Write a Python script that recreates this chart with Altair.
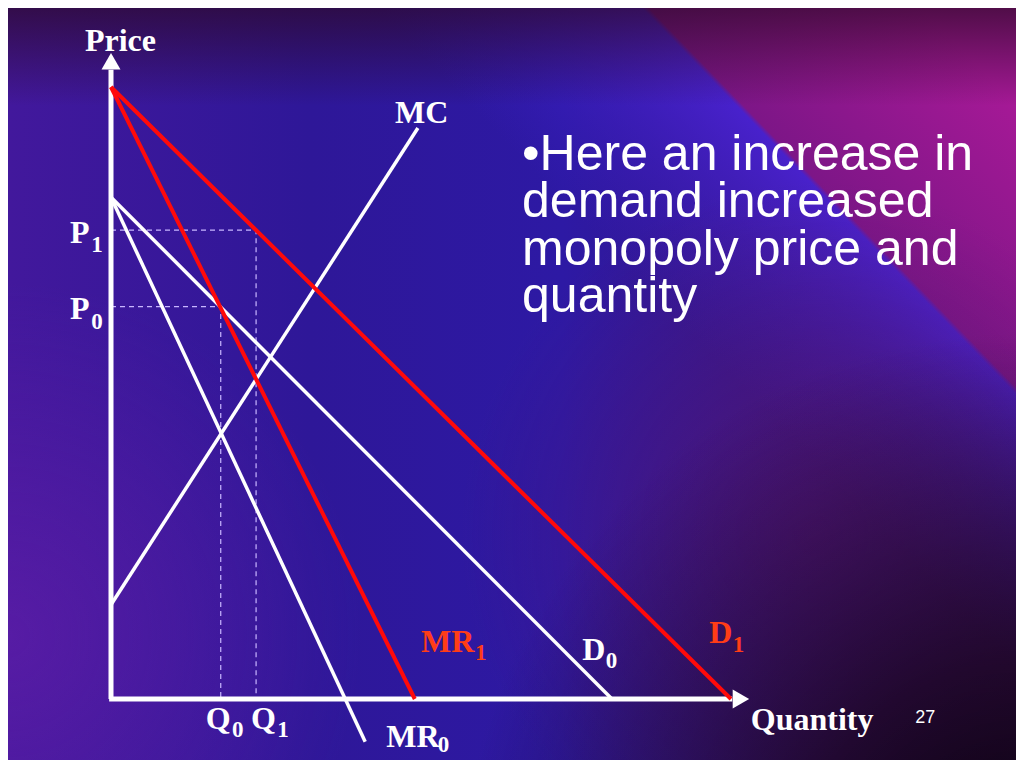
import altair as alt
import pandas as pd

# ---------------- data (Quantity, Price units) ----------------
curve_names   = ["D1", "MR1", "D0", "MR0", "MC"]
curve_q_start = [0.0, 0.0, 0.0, 0.0, 0.0]
curve_p_start = [10.0, 10.0, 8.2, 8.2, 1.54]
curve_q_end   = [10.0, 4.9, 8.08, 4.1, 4.95]
curve_p_end   = [0.0, 0.0, 0.0, -0.7, 9.33]
curve_is_red  = [True, True, False, False, False]

eq_names = ["0", "1"]
eq_q = [1.77, 2.34]   # Q0, Q1
eq_p = [6.41, 7.66]   # P0, P1

axis_q_end = 10.02
axis_p_end = 10.28
arrow_q_tip_center = 10.16
arrow_p_tip_center = 10.42

# labels: main text, q, p (left / baseline), colour
label_text  = ["Price", "MC", "P", "P", "Q", "Q", "MR", "MR", "D", "D", "Quantity"]
label_q     = [-0.42, 4.58, -0.66, -0.66, 1.53, 2.26, 4.44, 5.00, 7.60, 9.65, 10.32]
label_p     = [10.59, 9.41, 7.45, 6.21, -0.49, -0.49, -0.79, 0.77, 0.64, 0.92, -0.51]
label_color = ["white", "white", "white", "white", "white", "white", "white",
               "#ff3d17", "white", "#ff3d17", "white"]

sub_text  = ["1", "0", "0", "1", "0", "1", "0", "1"]
sub_q     = [-0.32, -0.32, 1.95, 2.68, 5.27, 5.87, 7.98, 10.03]
sub_p     = [7.30, 6.05, -0.62, -0.62, -0.87, 0.64, 0.51, 0.77]
sub_color = ["white", "white", "white", "white", "white", "#ff3d17", "white", "#ff3d17"]

bullet_lines = ["\u2022Here an increase in", "demand increased",
                "monopoly price and", "quantity"]
bullet_q = 6.63
bullet_p_first = 8.644

page_number = "27"
page_q, page_p = 12.97, -0.39

# ---------------- layout ----------------
W, H = 1008, 752
XMIN, XMAX = -1.66129, 14.5968
YMIN, YMAX = -0.99673, 11.2908
xs = alt.Scale(domain=[XMIN, XMAX], nice=False, zero=False)
ys = alt.Scale(domain=[YMIN, YMAX], nice=False, zero=False)
X = lambda f="q": alt.X(f"{f}:Q", scale=xs, axis=None)
Y = lambda f="p": alt.Y(f"{f}:Q", scale=ys, axis=None)

# ---------------- background ----------------
def bg(fill):
    return alt.Chart(alt.Data(values=[{"k": 1}])).mark_rect(fill=fill).encode(
        x=alt.value(0), x2=alt.value(W), y=alt.value(0), y2=alt.value(H))

GS = alt.GradientStop
base = bg(alt.LinearGradient(gradient="linear", x1=0, y1=0, x2=1, y2=0, stops=[
    GS(color="#42189c", offset=0), GS(color="#2e1798", offset=0.3),
    GS(color="#2d19a4", offset=0.55), GS(color="#3a1684", offset=0.8),
    GS(color="#3a1260", offset=1)]))
diag = bg(alt.LinearGradient(gradient="linear", x1=0.2, y1=0.9, x2=1.092, y2=0.256, stops=[
    GS(color="rgba(60,30,200,0)", offset=0), GS(color="rgba(60,30,200,0)", offset=0.6),
    GS(color="rgba(75,35,215,0.85)", offset=0.795),
    GS(color="rgba(125,22,135,1)", offset=0.80),
    GS(color="rgba(165,25,150,1)", offset=1)]))
top = bg(alt.LinearGradient(gradient="linear", x1=0, y1=0, x2=0, y2=1, stops=[
    GS(color="rgba(45,8,40,0.7)", offset=0), GS(color="rgba(45,8,40,0)", offset=0.13),
    GS(color="rgba(45,8,40,0)", offset=1)]))
leftglow = bg(alt.RadialGradient(gradient="radial", x1=0, y1=0.75, r1=0, x2=0, y2=0.75, r2=0.35, stops=[
    GS(color="rgba(100,30,170,0.6)", offset=0), GS(color="rgba(100,30,170,0)", offset=1)]))
rightmid = bg(alt.RadialGradient(gradient="radial", x1=0.8, y1=0.65, r1=0, x2=0.8, y2=0.65, r2=0.35, stops=[
    GS(color="rgba(85,20,110,0.7)", offset=0), GS(color="rgba(85,20,110,0)", offset=1)]))
corner = bg(alt.RadialGradient(gradient="radial", x1=1, y1=1, r1=0, x2=1, y2=1, r2=0.55, stops=[
    GS(color="rgba(5,0,8,1)", offset=0), GS(color="rgba(25,5,30,0.8)", offset=0.4),
    GS(color="rgba(30,8,45,0)", offset=1)]))

# ---------------- curves ----------------
rows = []
for n, q0, p0, q1, p1, red in zip(curve_names, curve_q_start, curve_p_start,
                                   curve_q_end, curve_p_end, curve_is_red):
    rows.append({"name": n, "q": q0, "p": p0, "o": 0, "red": red})
    rows.append({"name": n, "q": q1, "p": p1, "o": 1, "red": red})
curves = pd.DataFrame(rows)

white_lines = alt.Chart(curves[~curves.red]).mark_line(
    color="white", strokeWidth=3.5).encode(x=X(), y=Y(), detail="name:N", order="o:Q")
red_lines = alt.Chart(curves[curves.red]).mark_line(
    color="#ff0a0a", strokeWidth=4).encode(x=X(), y=Y(), detail="name:N", order="o:Q")

drows = []
for n, q, p in zip(eq_names, eq_q, eq_p):
    drows += [{"g": n, "q": 0, "p": p, "o": 0}, {"g": n, "q": q, "p": p, "o": 1},
              {"g": n, "q": q, "p": 0, "o": 2}]
dashed = alt.Chart(pd.DataFrame(drows)).mark_line(
    color="#c8b6ff", strokeWidth=1.2, strokeDash=[5, 4]).encode(
    x=X(), y=Y(), detail="g:N", order="o:Q")

axes_df = pd.DataFrame([
    {"a": "y", "q": 0, "p": 0, "o": 0}, {"a": "y", "q": 0, "p": axis_p_end, "o": 1},
    {"a": "x", "q": -0.03, "p": 0, "o": 0}, {"a": "x", "q": axis_q_end, "p": 0, "o": 1}])
axes = alt.Chart(axes_df).mark_line(color="white", strokeWidth=5).encode(
    x=X(), y=Y(), detail="a:N", order="o:Q")

arrow_up = alt.Chart(pd.DataFrame([{"q": 0, "p": arrow_p_tip_center}])).mark_point(
    shape="triangle-up", filled=True, color="white", opacity=1, size=361).encode(x=X(), y=Y())
arrow_right = alt.Chart(pd.DataFrame([{"q": arrow_q_tip_center, "p": 0}])).mark_point(
    shape="triangle-right", filled=True, color="white", opacity=1, size=361).encode(x=X(), y=Y())

# ---------------- text ----------------
labels = alt.Chart(pd.DataFrame({"t": label_text, "q": label_q, "p": label_p, "c": label_color})).mark_text(
    font="Liberation Serif", fontWeight="bold", fontSize=32, align="left", baseline="alphabetic").encode(
    x=X(), y=Y(), text="t:N", color=alt.Color("c:N", scale=None))
subs = alt.Chart(pd.DataFrame({"t": sub_text, "q": sub_q, "p": sub_p, "c": sub_color})).mark_text(
    font="Liberation Serif", fontWeight="bold", fontSize=23, align="left", baseline="alphabetic").encode(
    x=X(), y=Y(), text="t:N", color=alt.Color("c:N", scale=None))
bullets = alt.Chart(pd.DataFrame({"t": ["\n".join(bullet_lines)], "q": [bullet_q], "p": [bullet_p_first]})).mark_text(
    font="Liberation Sans", fontSize=50, align="left", baseline="alphabetic", color="white",
    lineBreak="\n", lineHeight=47.5).encode(
    x=X(), y=Y(), text="t:N")
pnum = alt.Chart(pd.DataFrame({"t": [page_number], "q": [page_q], "p": [page_p]})).mark_text(
    font="Liberation Sans", fontSize=18, align="left", baseline="alphabetic", color="white").encode(
    x=X(), y=Y(), text="t:N")

chart = alt.layer(
    base, diag, top, leftglow, rightmid, corner,
    dashed, axes, white_lines, red_lines, arrow_up, arrow_right,
    labels, subs, bullets, pnum,
).properties(
    width=W, height=H, padding=0, autosize=alt.AutoSizeParams(type="none"),
    background="#2c1690",
).configure_view(stroke=None)

chart.save("out.html", embed_options={"renderer": "svg", "actions": False})
